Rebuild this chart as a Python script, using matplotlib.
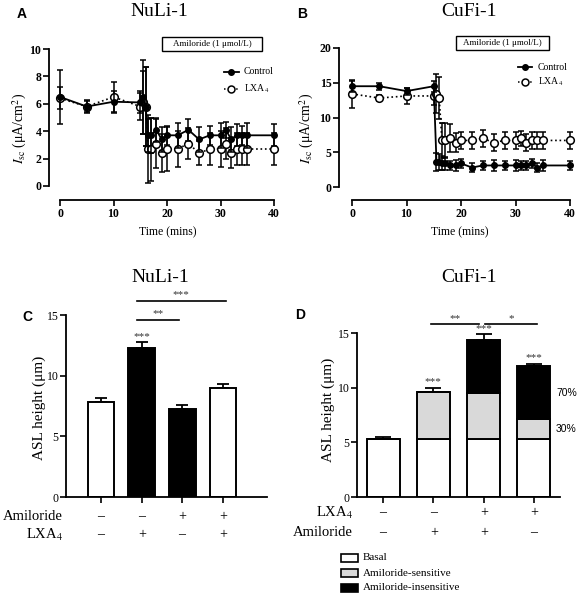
import matplotlib
matplotlib.use('Agg')
import matplotlib.pyplot as plt
from matplotlib.patches import Rectangle
from matplotlib.lines import Line2D

plt.rcParams['font.family'] = ['Liberation Serif', 'DejaVu Serif']
plt.rcParams['mathtext.fontset'] = 'stix'

# ---------------- data ----------------
time = [0, 5, 10, 15, 15.5, 16, 16.5, 17, 18, 19, 20, 22, 24, 26, 28, 30, 31, 32, 33, 34, 35, 40]

nuli_ctrl = [6.5, 5.8, 6.15, 6.1, 6.5, 5.8, 3.7, 3.7, 4.1, 3.4, 3.7, 3.7, 4.1, 3.4, 3.7, 3.7, 4.1, 3.4, 3.7, 3.7, 3.7, 3.7]
nuli_ctrl_err = [2.0, 0.5, 0.8, 0.8, 2.7, 2.9, 1.2, 1.3, 0.9, 0.9, 0.7, 0.9, 0.8, 0.9, 0.7, 0.9, 0.6, 0.9, 0.8, 0.7, 0.9, 0.8]
nuli_lxa = [6.4, 5.8, 6.5, 5.8, 6.1, 5.8, 2.7, 2.7, 3.1, 2.4, 2.7, 2.7, 3.1, 2.4, 2.7, 2.7, 3.1, 2.4, 2.7, 2.7, 2.7, 2.7]
nuli_lxa_err = [0.8, 0.4, 1.1, 1.0, 2.3, 2.9, 2.5, 2.3, 1.8, 1.4, 1.6, 1.3, 1.1, 0.9, 1.2, 1.3, 1.1, 1.1, 1.2, 1.2, 1.2, 1.2]

cufi_ctrl = [14.5, 14.5, 13.8, 14.5, 3.6, 3.6, 3.4, 3.4, 3.1, 3.1, 3.4, 2.8, 3.1, 3.1, 3.1, 3.1, 3.1, 3.1, 3.4, 2.8, 3.1, 3.1]
cufi_ctrl_err = [0.8, 0.5, 0.5, 0.8, 1.3, 1.2, 1.0, 0.9, 0.6, 0.8, 0.7, 0.7, 0.7, 0.8, 0.7, 0.8, 0.6, 0.6, 0.7, 0.6, 0.8, 0.7]
cufi_lxa = [13.4, 12.8, 13.1, 13.1, 13.4, 12.8, 6.7, 6.7, 7.0, 6.4, 6.7, 6.7, 7.0, 6.4, 6.7, 6.7, 7.0, 6.4, 6.7, 6.7, 6.7, 6.7]
cufi_lxa_err = [2.0, 0.4, 1.1, 1.3, 2.8, 3.0, 2.5, 2.5, 2.0, 1.3, 1.2, 1.2, 1.2, 1.2, 1.2, 1.2, 1.1, 1.2, 1.2, 1.2, 1.2, 1.2]

c_vals = [7.8, 12.3, 7.25, 9.0]
c_err = [0.35, 0.5, 0.3, 0.3]
c_colors = ['white', 'black', 'black', 'white']
c_amiloride = ['\u2013', '\u2013', '+', '+']
c_lxa = ['\u2013', '+', '\u2013', '+']

d_basal = [5.35, 5.35, 5.35, 5.35]
d_sens = [0.0, 4.25, 4.15, 1.75]
d_insens = [0.0, 0.0, 4.9, 4.9]
d_err = [0.15, 0.4, 0.5, 0.2]
d_lxa = ['\u2013', '\u2013', '+', '+']
d_amiloride = ['\u2013', '+', '+', '\u2013']

# ---------------- layout helpers ----------------
W, H = 578, 595
fig = plt.figure(figsize=(W / 100, H / 100), dpi=100)


def rect(x0, x1, y0, y1):
    return [x0 / W, 1 - y1 / H, (x1 - x0) / W, (y1 - y0) / H]


def fx(x):
    return x / W


def fy(y):
    return 1 - y / H


def px2pt(p):
    return p * 72 / 100


def style_axes(ax, left_out, bottom_out, xb, yb):
    for s in ['top', 'right']:
        ax.spines[s].set_visible(False)
    ax.spines['left'].set_position(('outward', px2pt(left_out)))
    ax.spines['bottom'].set_position(('outward', px2pt(bottom_out)))
    ax.spines['left'].set_linewidth(1.3)
    ax.spines['bottom'].set_linewidth(1.3)
    ax.spines['left'].set_bounds(*yb)
    ax.spines['bottom'].set_bounds(*xb)
    ax.tick_params(width=1.2, length=4, direction='out', pad=1.5)
    ax.patch.set_alpha(0)


def time_panel(axrect, lo, bo, ylim, yticks, ctrl, ctrl_err, lxa, lxa_err):
    ax = fig.add_axes(axrect)
    ax.errorbar(time, lxa, yerr=lxa_err, fmt='o', linestyle=':', color='black',
                mfc='white', mec='black', ms=5.5, mew=1.1, lw=1.2, capsize=2.5,
                elinewidth=1.1, capthick=1.1, zorder=2, clip_on=False)
    ax.errorbar(time, ctrl, yerr=ctrl_err, fmt='o', linestyle='-', color='black',
                ms=4, lw=1.3, capsize=2.5, elinewidth=1.1, capthick=1.1,
                zorder=3, clip_on=False)
    ax.set_xlim(0, 40)
    ax.set_ylim(*ylim)
    ax.set_xticks([0, 10, 20, 30, 40])
    ax.set_yticks(yticks)
    style_axes(ax, lo, bo, (0, 40), ylim)
    for lab in ax.get_xticklabels() + ax.get_yticklabels():
        lab.set_fontweight('bold')
        lab.set_fontsize(8.5)
    return ax


# ---------------- Panel A ----------------
axA = time_panel(rect(60, 274, 49, 186), 11, 14, (0, 10), [0, 2, 4, 6, 8, 10],
                 nuli_ctrl, nuli_ctrl_err, nuli_lxa, nuli_lxa_err)
# ---------------- Panel B ----------------
axB = time_panel(rect(352, 570, 48, 187), 13, 13, (0, 20), [0, 5, 10, 15, 20],
                 cufi_ctrl, cufi_ctrl_err, cufi_lxa, cufi_lxa_err)

ylab_isc = r'$I_{\mathrm{sc}}$ (μA/cm$^{2}$)'
fig.text(fx(20), fy(128), ylab_isc, rotation=90, ha='center', va='center', fontsize=10)
fig.text(fx(307), fy(128), ylab_isc, rotation=90, ha='center', va='center', fontsize=10)
fig.text(fx(168), fy(232), 'Time (mins)', ha='center', va='center', fontsize=8.5)
fig.text(fx(460), fy(232), 'Time (mins)', ha='center', va='center', fontsize=8.5)

# Amiloride boxes
for (x0, x1, y0, y1) in [(162, 262, 37, 51), (456, 549, 36, 50)]:
    fig.patches.append(Rectangle((fx(x0), fy(y1)), (x1 - x0) / W, (y1 - y0) / H,
                                 transform=fig.transFigure, fill=False, lw=1.0,
                                 edgecolor='black'))
    fig.text(fx((x0 + x1) / 2), fy((y0 + y1) / 2), 'Amiloride (1 μmol/L)',
             ha='center', va='center', fontsize=6.5)

# legends
for (lx0, lx1, tx, y1, y2) in [(224, 239, 244, 72, 89), (518, 532, 538, 67, 82)]:
    fig.lines.append(Line2D([fx(lx0), fx(lx1)], [fy(y1), fy(y1)], transform=fig.transFigure,
                            color='black', lw=1.3))
    fig.lines.append(Line2D([fx((lx0 + lx1) / 2)], [fy(y1)], transform=fig.transFigure,
                            color='black', marker='o', ms=4))
    fig.lines.append(Line2D([fx(lx0), fx(lx1)], [fy(y2), fy(y2)], transform=fig.transFigure,
                            color='black', lw=1.1, ls=':'))
    fig.lines.append(Line2D([fx((lx0 + lx1) / 2)], [fy(y2)], transform=fig.transFigure,
                            color='black', marker='o', mfc='white', ms=5, mew=1.1))
    fig.text(fx(tx), fy(y1), 'Control', ha='left', va='center', fontsize=7)
    fig.text(fx(tx), fy(y2), 'LXA$_4$', ha='left', va='center', fontsize=7)

# ---------------- Panel C ----------------
xc = [0, 1, 2, 3]
axC = fig.add_axes(rect(66, 267, 315, 497))
axC.bar(xc, c_vals, width=0.66, color=c_colors, edgecolor='black', lw=1.4, zorder=2)
axC.errorbar(xc, c_vals, yerr=[[0] * 4, c_err], fmt='none', ecolor='black',
             elinewidth=1.3, capsize=4.5, capthick=1.3, zorder=1)
axC.set_xlim(-0.86, 4.08)
axC.set_ylim(0, 15)
axC.set_yticks([0, 5, 10, 15])
axC.set_xticks(xc)
axC.set_xticklabels([])
style_axes(axC, 0, 0, (-0.86, 4.08), (0, 15))
for lab in axC.get_yticklabels():
    lab.set_fontsize(8.5)
axC.plot([0.88, 1.92], [14.6, 14.6], color='black', lw=1.2, clip_on=False)
axC.plot([0.88, 3.07], [16.15, 16.15], color='black', lw=1.2, clip_on=False)
axC.text(1.4, 14.75, '**', ha='center', va='bottom', fontsize=8, color='#333333')
axC.text(1.97, 16.3, '***', ha='center', va='bottom', fontsize=8, color='#333333')
axC.text(1, 12.85, '***', ha='center', va='bottom', fontsize=8, color='#333333')

fig.text(fx(39), fy(408), 'ASL height (μm)', rotation=90, ha='center', va='center', fontsize=11)
for i, x in enumerate([101, 142, 182, 223]):
    fig.text(fx(x), fy(517), c_amiloride[i], ha='center', va='center', fontsize=10)
    fig.text(fx(x), fy(535), c_lxa[i], ha='center', va='center', fontsize=10)
fig.text(fx(63), fy(517), 'Amiloride', ha='right', va='center', fontsize=10.5)
fig.text(fx(63), fy(535), 'LXA$_4$', ha='right', va='center', fontsize=10.5)

# ---------------- Panel D ----------------
axD = fig.add_axes(rect(357, 560, 333, 497))
bot2 = [b + s for b, s in zip(d_basal, d_sens)]
tot = [b + i for b, i in zip(bot2, d_insens)]
axD.bar(xc, d_basal, width=0.66, color='white', edgecolor='black', lw=1.4, zorder=2)
axD.bar(xc, d_sens, bottom=d_basal, width=0.66, color='#d9d9d9', edgecolor='black', lw=1.4, zorder=2)
axD.bar(xc, d_insens, bottom=bot2, width=0.66, color='black', edgecolor='black', lw=1.4, zorder=2)
axD.errorbar(xc, tot, yerr=[[0] * 4, d_err], fmt='none', ecolor='black',
             elinewidth=1.3, capsize=5.5, capthick=1.3, zorder=1)
axD.set_xlim(-0.52, 3.52)
axD.set_ylim(0, 15)
axD.set_yticks([0, 5, 10, 15])
axD.set_xticks(xc)
axD.set_xticklabels([])
style_axes(axD, 0, 0, (-0.52, 3.52), (0, 15))
for lab in axD.get_yticklabels():
    lab.set_fontsize(8.5)
axD.plot([0.95, 1.91], [15.8, 15.8], color='black', lw=1.2, clip_on=False)
axD.plot([2.03, 3.06], [15.8, 15.8], color='black', lw=1.2, clip_on=False)
axD.text(1.43, 15.95, '**', ha='center', va='bottom', fontsize=8, color='#333333')
axD.text(2.55, 15.95, '*', ha='center', va='bottom', fontsize=8, color='#333333')
for i in range(1, 4):
    axD.text(xc[i], tot[i] + d_err[i] + 0.1, '***', ha='center', va='bottom',
             fontsize=8, color='#333333')
axD.text(3.44, (bot2[3] + tot[3]) / 2, '70%', ha='left', va='center', fontsize=7.5,
         family=['Liberation Sans', 'DejaVu Sans'])
axD.text(3.44, (d_basal[3] + bot2[3]) / 2, '30%', ha='left', va='center', fontsize=7.5,
         family=['Liberation Sans', 'DejaVu Sans'])

fig.text(fx(328), fy(410), 'ASL height (μm)', rotation=90, ha='center', va='center', fontsize=11)
for i, x in enumerate([383, 434, 484, 534]):
    fig.text(fx(x), fy(513), d_lxa[i], ha='center', va='center', fontsize=10)
    fig.text(fx(x), fy(533), d_amiloride[i], ha='center', va='center', fontsize=10)
fig.text(fx(353), fy(513), 'LXA$_4$', ha='right', va='center', fontsize=10.5)
fig.text(fx(353), fy(533), 'Amiloride', ha='right', va='center', fontsize=10.5)

# legend for D
leg_labels = ['Basal', 'Amiloride-sensitive', 'Amiloride-insensitive']
leg_colors = ['white', '#d9d9d9', 'black']
for lab, col, y in zip(leg_labels, leg_colors, [558, 573, 588]):
    fig.patches.append(Rectangle((fx(341), fy(y + 4)), 17 / W, 8 / H, transform=fig.transFigure,
                                 facecolor=col, edgecolor='black', lw=1.2))
    fig.text(fx(363), fy(y), lab, ha='left', va='center', fontsize=8)

# ---------------- titles & letters ----------------
fig.text(fx(159), fy(12), 'NuLi-1', ha='center', va='center', fontsize=14)
fig.text(fx(469), fy(12), 'CuFi-1', ha='center', va='center', fontsize=14)
fig.text(fx(160), fy(277), 'NuLi-1', ha='center', va='center', fontsize=14)
fig.text(fx(469), fy(277), 'CuFi-1', ha='center', va='center', fontsize=14)
sans = ['Liberation Sans', 'DejaVu Sans']
for t, x, y in [('A', 22, 14), ('B', 302, 14), ('C', 27, 317), ('D', 300, 315)]:
    fig.text(fx(x), fy(y), t, ha='center', va='center', fontsize=10, fontweight='bold', family=sans)

fig.savefig('out.png', dpi=100)
